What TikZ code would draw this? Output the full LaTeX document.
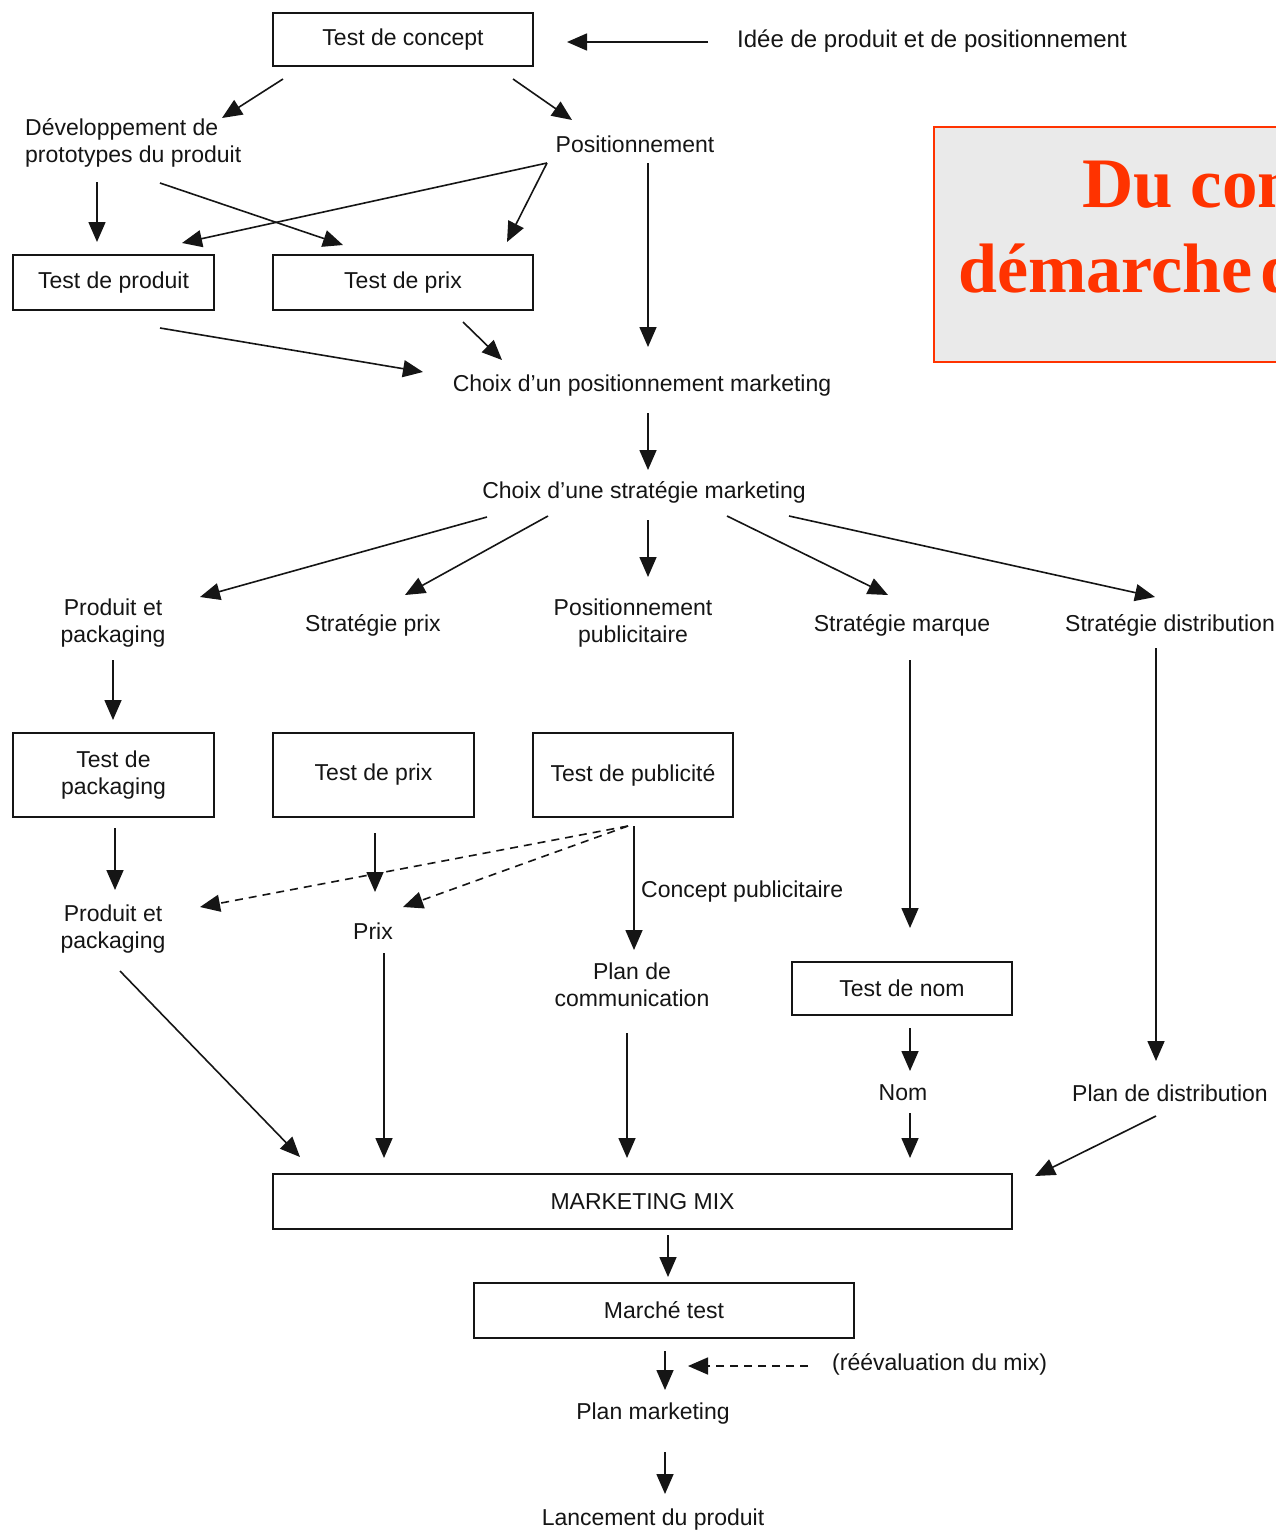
\documentclass[tikz,border=0pt]{standalone}
\usepackage{fontspec}
\setmainfont{Liberation Sans}
\newfontfamily\titleserif{Liberation Serif}
\usetikzlibrary{arrows.meta}
\definecolor{ink}{HTML}{151515}
\definecolor{titlered}{HTML}{FF3300}
\definecolor{titlebg}{HTML}{EAEAEA}

\begin{document}
\begin{tikzpicture}[x=1pt,y=-1pt,
  lbl/.style={inner sep=0pt, text=ink, font=\fontsize{23}{27}\selectfont},
  stagebox/.style={draw=ink, line width=1.8pt, inner sep=0pt, text=ink,
    font=\fontsize{23}{27}\selectfont, align=center},
  arr/.style={draw=ink, line width=1.6pt, -{Triangle[length=20pt,width=17pt]}},
  dasharr/.style={arr, dash pattern=on 8pt off 6pt}]

\useasboundingbox (0,0) rectangle (1276,1532);
\fill[white] (0,0) rectangle (1276,1532);

% title panel, running off the right edge
\begin{scope}
  \clip (930,120) rectangle (1276,370);
  \fill[titlebg] (934,127) rectangle (1300,362);
  \draw[titlered, line width=2pt] (1300,127) -- (934,127) -- (934,362) -- (1300,362);
  \node[inner sep=0pt, anchor=base west, text=titlered,
    font=\titleserif\bfseries\fontsize{71}{80}\selectfont] (titleA) at (1082,207) {Du con};
  \node[inner sep=0pt, anchor=base west, text=titlered,
    font=\titleserif\bfseries\fontsize{70}{80}\selectfont] (titleB) at (958,292) {démarche\hspace{0.12em}d};
\end{scope}

% boxed stages
\node[stagebox, minimum width=260pt, minimum height=53pt] (concept) at (403,39.5) {Test de concept};
\node[stagebox, minimum width=201pt, minimum height=55pt] (testprod) at (113.5,282.5) {Test de produit};
\node[stagebox, minimum width=260pt, minimum height=55pt] (testprixA) at (403,282.5) {Test de prix};
\node[stagebox, minimum width=201pt, minimum height=84pt] (testpack) at (113.5,775) {Test de\\packaging};
\node[stagebox, minimum width=201pt, minimum height=84pt] (testprixB) at (373.5,775) {Test de prix};
\node[stagebox, minimum width=200pt, minimum height=84pt] (testpub) at (633,775) {Test de publicité};
\node[stagebox, minimum width=220pt, minimum height=53pt] (testnom) at (902,988.5) {Test de nom};
\node[stagebox, minimum width=739pt, minimum height=55pt] (mix) at (642.5,1201.5) {MARKETING MIX};
\node[stagebox, minimum width=380pt, minimum height=55pt] (marche) at (664,1310.5) {Marché test};

% free labels
\node[lbl, font=\fontsize{24}{27}\selectfont] (idee) at (932,41) {Idée de produit et de positionnement};
\node[lbl, align=left, anchor=west] (dev) at (25,143) {Développement de\\prototypes du produit};
\node[lbl] (pos) at (635,144) {Positionnement};
\node[lbl] (choixpos) at (642,386) {Choix d'un positionnement marketing};
\node[lbl] (choixstrat) at (644,492) {Choix d'une stratégie marketing};
\node[lbl, align=center] (prodpackA) at (113,623) {Produit et\\packaging};
\node[lbl] (stratprix) at (373,625) {Stratégie prix};
\node[lbl, align=center] (pospub) at (633,623) {Positionnement\\publicitaire};
\node[lbl] (stratmarque) at (902,625) {Stratégie marque};
\node[lbl] (stratdist) at (1170,625) {Stratégie distribution};
\node[lbl, align=center] (prodpackB) at (113,929) {Produit et\\packaging};
\node[lbl] (prix) at (373,931) {Prix};
\node[lbl, anchor=west] (concpub) at (641,892) {Concept publicitaire};
\node[lbl, align=center] (plancom) at (632,985) {Plan de\\communication};
\node[lbl] (nom) at (903,1093) {Nom};
\node[lbl] (plandist) at (1170,1093) {Plan de distribution};
\node[lbl, anchor=west] (reeval) at (832,1364) {(réévaluation du mix)};
\node[lbl] (planmkt) at (653,1414) {Plan marketing};
\node[lbl] (lancement) at (653,1520) {Lancement du produit};

% connector end points
\path (708,42) coordinate (ideeOut)      (567,42) coordinate (conceptIn)
      (283,79) coordinate (conceptOutL)  (222,118) coordinate (devIn)
      (513,79) coordinate (conceptOutR)  (572,120) coordinate (posIn)
      (97,182) coordinate (devOutA)      (97,242) coordinate (testprodInA)
      (160,183) coordinate (devOutB)     (343,245) coordinate (testprixInA)
      (547,163) coordinate (posOutA)     (182,243) coordinate (testprodInB)
      (507,242) coordinate (testprixInB)
      (648,163) coordinate (posOutB)     (648,347) coordinate (choixposInA)
      (160,328) coordinate (testprodOut) (423,372) coordinate (choixposInB)
      (463,322) coordinate (testprixOut) (502,360) coordinate (choixposInC)
      (648,413) coordinate (choixposOut) (648,470) coordinate (choixstratIn)
      (487,517) coordinate (stratOutA)   (200,597) coordinate (prodpackAIn)
      (548,516) coordinate (stratOutB)   (405,595) coordinate (stratprixIn)
      (648,520) coordinate (stratOutC)   (648,577) coordinate (pospubIn)
      (727,516) coordinate (stratOutD)   (888,595) coordinate (stratmarqueIn)
      (789,516) coordinate (stratOutE)   (1155,597) coordinate (stratdistIn)
      (113,660) coordinate (prodpackAOut) (113,720) coordinate (testpackIn)
      (910,660) coordinate (stratmarqueOut) (910,928) coordinate (testnomIn)
      (1156,648) coordinate (stratdistOut) (1156,1061) coordinate (plandistIn)
      (115,828) coordinate (testpackOut) (115,890) coordinate (prodpackBIn)
      (375,833) coordinate (testprixBOut) (375,892) coordinate (prixIn)
      (628,826) coordinate (testpubOutA) (200,907) coordinate (prodpackBInB)
      (403,907) coordinate (prixInB)
      (634,826) coordinate (testpubOutB) (634,950) coordinate (plancomIn)
      (120,971) coordinate (prodpackBOut) (300,1157) coordinate (mixInA)
      (384,953) coordinate (prixOut)     (384,1158) coordinate (mixInB)
      (627,1033) coordinate (plancomOut) (627,1158) coordinate (mixInC)
      (910,1028) coordinate (testnomOut) (910,1071) coordinate (nomIn)
      (910,1113) coordinate (nomOut)     (910,1158) coordinate (mixInD)
      (1156,1116) coordinate (plandistOut) (1035,1176) coordinate (mixInE)
      (668,1235) coordinate (mixOut)     (668,1277) coordinate (marcheIn)
      (665,1351) coordinate (marcheOut)  (665,1390) coordinate (planmktIn)
      (808,1366) coordinate (reevalOut)  (688,1366) coordinate (feedbackIn)
      (665,1452) coordinate (planmktOut) (665,1494) coordinate (lancementIn);

% connectors
\draw[arr] (ideeOut) -- (conceptIn);
\draw[arr] (conceptOutL) -- (devIn);
\draw[arr] (conceptOutR) -- (posIn);
\draw[arr] (devOutA) -- (testprodInA);
\draw[arr] (devOutB) -- (testprixInA);
\draw[arr] (posOutA) -- (testprodInB);
\draw[arr] (posOutA) -- (testprixInB);
\draw[arr] (posOutB) -- (choixposInA);
\draw[arr] (testprodOut) -- (choixposInB);
\draw[arr] (testprixOut) -- (choixposInC);
\draw[arr] (choixposOut) -- (choixstratIn);
\draw[arr] (stratOutA) -- (prodpackAIn);
\draw[arr] (stratOutB) -- (stratprixIn);
\draw[arr] (stratOutC) -- (pospubIn);
\draw[arr] (stratOutD) -- (stratmarqueIn);
\draw[arr] (stratOutE) -- (stratdistIn);
\draw[arr] (prodpackAOut) -- (testpackIn);
\draw[arr] (stratmarqueOut) -- (testnomIn);
\draw[arr] (stratdistOut) -- (plandistIn);
\draw[arr] (testpackOut) -- (prodpackBIn);
\draw[arr] (testprixBOut) -- (prixIn);
\draw[dasharr] (testpubOutA) -- (prodpackBInB);
\draw[dasharr] (testpubOutA) -- (prixInB);
\draw[arr] (testpubOutB) -- (plancomIn);
\draw[arr] (prodpackBOut) -- (mixInA);
\draw[arr] (prixOut) -- (mixInB);
\draw[arr] (plancomOut) -- (mixInC);
\draw[arr] (testnomOut) -- (nomIn);
\draw[arr] (nomOut) -- (mixInD);
\draw[arr] (plandistOut) -- (mixInE);
\draw[arr] (mixOut) -- (marcheIn);
\draw[arr] (marcheOut) -- (planmktIn);
\draw[dasharr] (reevalOut) -- (feedbackIn);
\draw[arr] (planmktOut) -- (lancementIn);

\end{tikzpicture}
\end{document}
